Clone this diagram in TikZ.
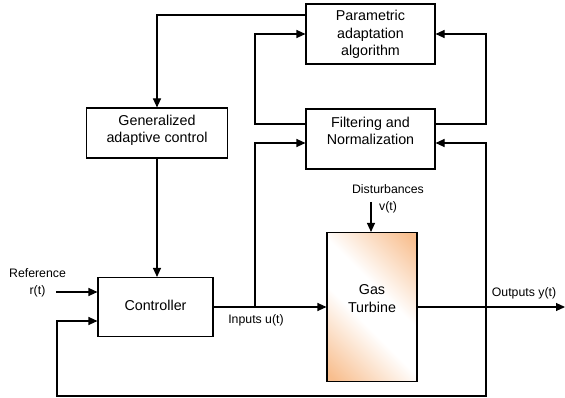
\documentclass[tikz,border=0pt]{standalone}
\usepackage{fontspec}
\setmainfont{Liberation Sans}
\usetikzlibrary{arrows.meta}

\definecolor{turbOrange}{RGB}{248,190,142}
% diagonal peach-to-white shading for the turbine block
\pgfdeclarehorizontalshading{turbshade}{100bp}{%
  color(0bp)=(turbOrange); color(17bp)=(turbOrange);
  color(43bp)=(white); color(57bp)=(white);
  color(83bp)=(turbOrange); color(100bp)=(turbOrange)}

\tikzset{
  blk/.style={draw=black, line width=1.1pt, inner sep=0pt},
  boxtext/.style={align=center, inner sep=0pt, font=\fontsize{14.3}{17.3}\selectfont},
  smalltext/.style={align=center, inner sep=0pt, font=\fontsize{12.3}{17}\selectfont},
  wire/.style={line width=1.1pt},
  arr/.style={wire, -{Triangle[length=9pt,width=8pt]}},
}

\begin{document}
\begin{tikzpicture}[x=1pt,y=-1pt]
\useasboundingbox (0,0) rectangle (565,398);

% blocks
\node[blk, minimum width=129pt, minimum height=60pt] (param) at (370.5,34) {};
\node[blk, minimum width=129pt, minimum height=60pt] (filt) at (370.5,139) {};
\node[blk, minimum width=141pt, minimum height=50pt] (gen) at (157,133) {};
\node[blk, minimum width=115pt, minimum height=59pt] (ctrl) at (155.5,307) {};
\node[blk, shade, shading=turbshade, shading angle=45,
      minimum width=90pt, minimum height=149pt] (turb) at (372,307) {};

% block captions
\node[boxtext] (paramtxt) at (370.5,34.5) {Parametric\\adaptation\\algorithm};
\node[boxtext] (filttxt) at (370.5,131) {Filtering and\\Normalization};
\node[boxtext] (gentxt) at (157,130) {Generalized\\adaptive control};
\node[boxtext] (ctrltxt) at (155.5,305) {Controller};
\node[boxtext] (turbtxt) at (372,298.5) {Gas\\Turbine};

% signal labels
\node[smalltext] (disttxt) at (388,199) {Disturbances\\v(t)};
\node[smalltext] (reftxt) at (37.5,283) {Reference\\r(t)};
\node[smalltext] (inputtxt) at (256,320) {Inputs u(t)};
\node[smalltext] (outputtxt) at (524,293) {Outputs y(t)};

% helper points
\coordinate (topfb) at (157,15);
\coordinate (lx) at (255,0);
\coordinate (rx) at (486,0);
\coordinate (utap) at (255,307);
\coordinate (ytap) at (486,307);
\coordinate (fbcorner) at (57,396);
\coordinate (refstart) at (56,292);
\coordinate (diststart) at (371,202);
\coordinate (yend) at (565,307);

% adaptation loop
\draw[arr] ([yshift=19pt]param.west) -| (gen.north -| topfb);
\draw[arr] ([yshift=15pt]filt.west) -| (lx |- param.west) -- (param.west);
\draw[arr] ([yshift=15pt]filt.east) -| (rx |- param.east) -- (param.east);
\draw[arr] (gen.south -| topfb) -- (ctrl.north -| topfb);

% plant signals
\draw[arr] (ctrl.east) -- (turb.west);
\draw[arr] (utap) |- ([yshift=-4pt]filt.west);
\draw[arr] (turb.east) -- (yend);
\draw[arr] (ytap) |- ([yshift=-4pt]filt.east);
\draw[arr] (ytap) |- (fbcorner) |- ([yshift=-14pt]ctrl.west);
\draw[arr] (refstart) -- ([yshift=15pt]ctrl.west);
\draw[arr] (diststart) -- (diststart |- turb.north);
\end{tikzpicture}
\end{document}
